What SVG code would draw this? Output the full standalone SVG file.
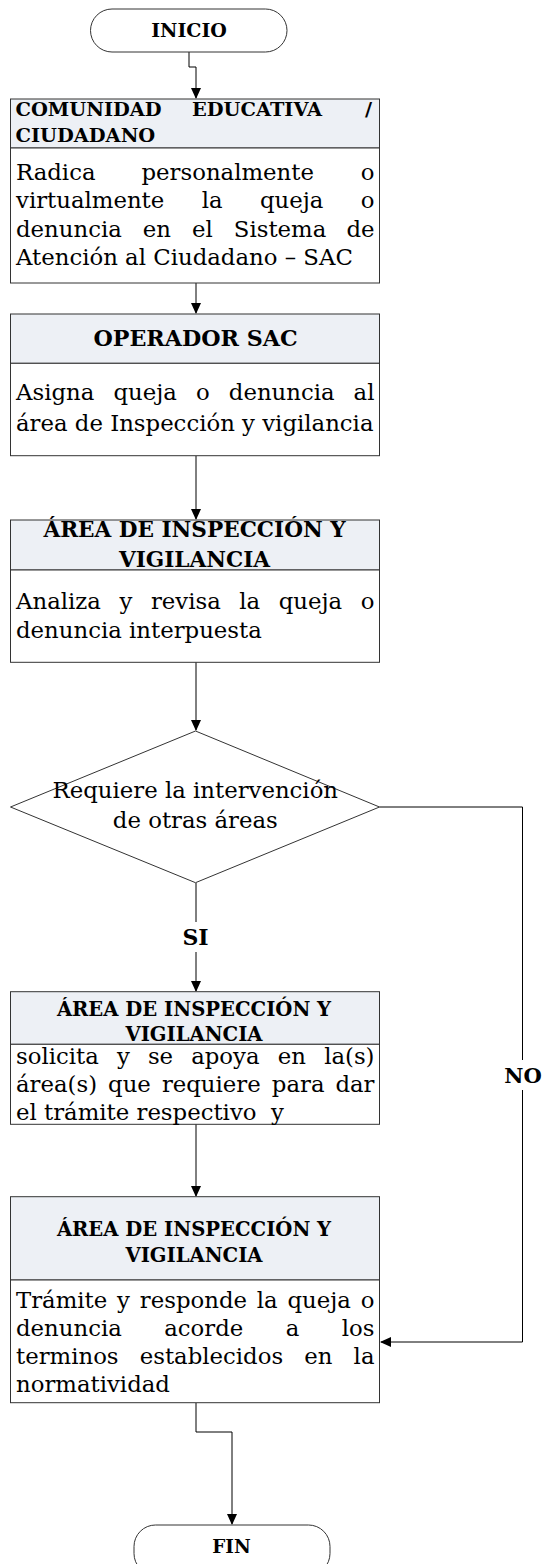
<svg xmlns="http://www.w3.org/2000/svg" width="542" height="1564" viewBox="0 0 542 1564">
<defs>
<marker id="arr" markerWidth="11" markerHeight="10" refX="10" refY="5" orient="auto" markerUnits="userSpaceOnUse">
<path d="M0,0 L11,5 L0,10 Z" fill="#000"/>
</marker>
<style>
.box{fill:#fff;stroke:#333;stroke-width:1}
.hdr{fill:#edf0f5;stroke:#333;stroke-width:1}
.ln{fill:none;stroke:#000;stroke-width:1}
.h{font-family:"DejaVu Serif","Liberation Serif",serif;font-weight:bold;fill:#000}
.b{font-family:"DejaVu Serif","Liberation Serif",serif;fill:#000;font-size:22.8px}
.lbl{fill:#fff;stroke:none}
</style>
</defs>
<rect width="542" height="1564" fill="#fff"/>
<g id="connectors">
<path class="ln" d="M189,52 V67 H196 V98" marker-end="url(#arr)"/>
<path class="ln" d="M196,283 V313" marker-end="url(#arr)"/>
<path class="ln" d="M196,456 V519" marker-end="url(#arr)"/>
<path class="ln" d="M196,662 V730" marker-end="url(#arr)"/>
<path class="ln" d="M196,883 V991" marker-end="url(#arr)"/>
<path class="ln" d="M196,1124 V1196" marker-end="url(#arr)"/>
<path class="ln" d="M379.5,807 H522.5 V1342 H381" marker-end="url(#arr)"/>
<path class="ln" d="M196,1403 V1432 H232 V1524" marker-end="url(#arr)"/>
<rect class="lbl" x="180" y="922" width="32" height="30"/>
<text class="h" x="195.5" y="945" font-size="22" text-anchor="middle">SI</text>
<rect class="lbl" x="502" y="1060" width="40" height="30"/>
<text class="h" x="523" y="1083" font-size="21" text-anchor="middle">NO</text>
</g>
<g id="inicio">
<rect class="box" x="90.5" y="9" width="196.5" height="43" rx="21.5"/>
<text class="h" x="189" y="37" font-size="19" text-anchor="middle">INICIO</text>
</g>
<g id="comunidad">
<rect class="hdr" x="10.5" y="99" width="369" height="49"/>
<rect class="box" x="10.5" y="148" width="369" height="135"/>
<text class="h" font-size="19.4" y="116"><tspan x="15.5">COMUNIDAD</tspan><tspan x="192">EDUCATIVA</tspan><tspan x="372" text-anchor="end">/</tspan></text>
<text class="h" font-size="19.4" x="15.5" y="142">CIUDADANO</text>
<text class="b" y="180"><tspan x="16">Radica</tspan><tspan x="141.5">personalmente</tspan><tspan x="374.5" text-anchor="end">o</tspan></text>
<text class="b" y="208.3"><tspan x="16">virtualmente</tspan><tspan x="201.7">la</tspan><tspan x="260">queja</tspan><tspan x="374.5" text-anchor="end">o</tspan></text>
<text class="b" y="236.7"><tspan x="16">denuncia</tspan><tspan x="142.8">en</tspan><tspan x="192">el</tspan><tspan x="233.8">Sistema</tspan><tspan x="374.5" text-anchor="end">de</tspan></text>
<text class="b" x="16" y="265">Atención al Ciudadano – SAC</text>
</g>
<g id="operador">
<rect class="hdr" x="10.5" y="314" width="369" height="49.3"/>
<rect class="box" x="10.5" y="363.3" width="369" height="92.4"/>
<text class="h" font-size="22.2" x="195.5" y="346" text-anchor="middle">OPERADOR SAC</text>
<text class="b" y="400"><tspan x="16">Asigna</tspan><tspan x="113.4">queja</tspan><tspan x="196">o</tspan><tspan x="228.8">denuncia</tspan><tspan x="374.5" text-anchor="end">al</tspan></text>
<text class="b" x="16" y="431">área de Inspección y vigilancia</text>
</g>
<g id="area1">
<rect class="hdr" x="10.5" y="520" width="369" height="50"/>
<rect class="box" x="10.5" y="570" width="369" height="92.3"/>
<text class="h" font-size="21.6" x="194.5" y="537" text-anchor="middle">ÁREA DE INSPECCIÓN Y</text>
<text class="h" font-size="21.6" x="194.5" y="566.7" text-anchor="middle">VIGILANCIA</text>
<text class="b" y="609"><tspan x="16">Analiza</tspan><tspan x="119.4">y</tspan><tspan x="150.9">revisa</tspan><tspan x="239.3">la</tspan><tspan x="278.7">queja</tspan><tspan x="374.5" text-anchor="end">o</tspan></text>
<text class="b" x="16" y="637.5">denuncia interpuesta</text>
</g>
<g id="decision">
<path class="box" d="M195.5,731 L379.5,807 L195.5,882.7 L10.5,807 Z"/>
<text class="b" x="195.3" y="798" text-anchor="middle">Requiere la intervención</text>
<text class="b" x="195.3" y="828" text-anchor="middle">de otras áreas</text>
</g>
<g id="area2">
<rect class="hdr" x="10.5" y="991.7" width="369" height="52.6"/>
<rect class="box" x="10.5" y="1044.3" width="369" height="80"/>
<text class="h" font-size="19.6" x="194" y="1016" text-anchor="middle">ÁREA DE INSPECCIÓN Y</text>
<text class="h" font-size="19.6" x="194" y="1040.5" text-anchor="middle">VIGILANCIA</text>
<text class="b" y="1063.8"><tspan x="16">solicita</tspan><tspan x="116.9">y</tspan><tspan x="147.9">se</tspan><tspan x="191.2">apoya</tspan><tspan x="277.7">en</tspan><tspan x="374.5" text-anchor="end">la(s)</tspan></text>
<text class="b" y="1092"><tspan x="16">área(s)</tspan><tspan x="108.1">que</tspan><tspan x="161.9">requiere</tspan><tspan x="271.8">para</tspan><tspan x="374.5" text-anchor="end">dar</tspan></text>
<text class="b" x="16" y="1120" xml:space="preserve">el trámite respectivo  y</text>
</g>
<g id="area3">
<rect class="hdr" x="10.5" y="1196.7" width="369" height="83.3"/>
<rect class="box" x="10.5" y="1280" width="369" height="122.7"/>
<text class="h" font-size="19.6" x="194" y="1236" text-anchor="middle">ÁREA DE INSPECCIÓN Y</text>
<text class="h" font-size="19.6" x="194" y="1261.7" text-anchor="middle">VIGILANCIA</text>
<text class="b" y="1307.5"><tspan x="16">Trámite</tspan><tspan x="117.1">y</tspan><tspan x="139.8">responde</tspan><tspan x="256.8">la</tspan><tspan x="287.5">queja</tspan><tspan x="374.5" text-anchor="end">o</tspan></text>
<text class="b" y="1335.5"><tspan x="16">denuncia</tspan><tspan x="164.2">acorde</tspan><tspan x="285.7">a</tspan><tspan x="374.5" text-anchor="end">los</tspan></text>
<text class="b" y="1364"><tspan x="16">terminos</tspan><tspan x="139.7">establecidos</tspan><tspan x="304.2">en</tspan><tspan x="374.5" text-anchor="end">la</tspan></text>
<text class="b" x="16" y="1392.3">normatividad</text>
</g>
<g id="fin">
<rect class="box" x="134" y="1525" width="196" height="50" rx="21.5"/>
<text class="h" font-size="18.4" x="231.5" y="1553.3" text-anchor="middle">FIN</text>
</g>
</svg>
